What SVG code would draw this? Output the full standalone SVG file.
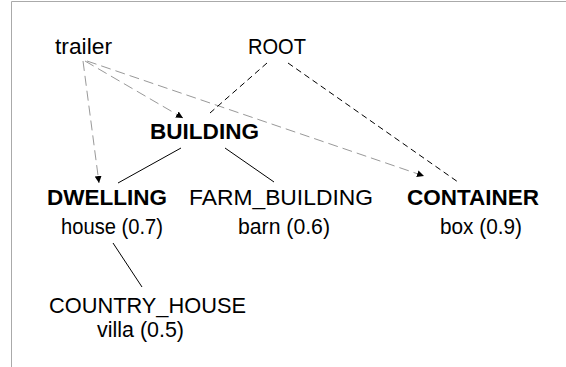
<svg xmlns="http://www.w3.org/2000/svg" width="566" height="367" viewBox="0 0 566 367">
<defs>
<style>
text{font-family:"Liberation Sans",Arial,Helvetica,sans-serif;font-size:22px;fill:#000}
.b{font-weight:bold}
.frame{stroke:#aaaaaa;stroke-width:1;fill:none}
.solid{stroke:#000;stroke-width:1;fill:none}
.dk{stroke:#000;stroke-width:1;stroke-dasharray:6 4;fill:none}
.gr{stroke:#999;stroke-width:1;stroke-dasharray:10 5;fill:none}
</style>
<marker id="ah" viewBox="0 0 10 10" refX="10" refY="5" markerWidth="7" markerHeight="7" markerUnits="userSpaceOnUse" orient="auto">
<path d="M0,0 L10,5 L0,10 z" fill="#000"/>
</marker>
</defs>
<rect width="566" height="367" fill="#fff"/>
<path class="frame" d="M11.5,367 V1.5 H566"/>
<g id="connectors">
<line class="gr" x1="83" y1="61" x2="99" y2="183" marker-end="url(#ah)"/>
<line class="gr" x1="85" y1="61" x2="183" y2="118" marker-end="url(#ah)"/>
<line class="gr" x1="87" y1="61" x2="424" y2="176" marker-end="url(#ah)"/>
<line class="dk" x1="267" y1="63" x2="210" y2="113"/>
<line class="dk" x1="288" y1="63" x2="458" y2="182"/>
<line class="solid" x1="181" y1="148" x2="118" y2="183"/>
<line class="solid" x1="225" y1="148" x2="274" y2="182"/>
<line class="solid" x1="113" y1="243" x2="142" y2="287"/>
</g>
<g id="trailer"><text x="55" y="54" textLength="57" lengthAdjust="spacingAndGlyphs">trailer</text></g>
<g id="root"><text x="248" y="54" textLength="58" lengthAdjust="spacingAndGlyphs">ROOT</text></g>
<g id="building"><text class="b" x="150" y="139" textLength="109" lengthAdjust="spacingAndGlyphs">BUILDING</text></g>
<g id="dwelling">
<text class="b" x="47" y="205" textLength="120" lengthAdjust="spacingAndGlyphs">DWELLING</text>
<text x="61" y="234" textLength="102" lengthAdjust="spacingAndGlyphs">house (0.7)</text>
</g>
<g id="farm_building">
<text x="189" y="205" textLength="184" lengthAdjust="spacingAndGlyphs">FARM_BUILDING</text>
<text x="238" y="234" textLength="92" lengthAdjust="spacingAndGlyphs">barn (0.6)</text>
</g>
<g id="container">
<text class="b" x="407" y="205" textLength="132" lengthAdjust="spacingAndGlyphs">CONTAINER</text>
<text x="440" y="234" textLength="82" lengthAdjust="spacingAndGlyphs">box (0.9)</text>
</g>
<g id="country_house">
<text x="49" y="313" textLength="197" lengthAdjust="spacingAndGlyphs">COUNTRY_HOUSE</text>
<text x="97" y="337" textLength="87" lengthAdjust="spacingAndGlyphs">villa (0.5)</text>
</g>
</svg>
